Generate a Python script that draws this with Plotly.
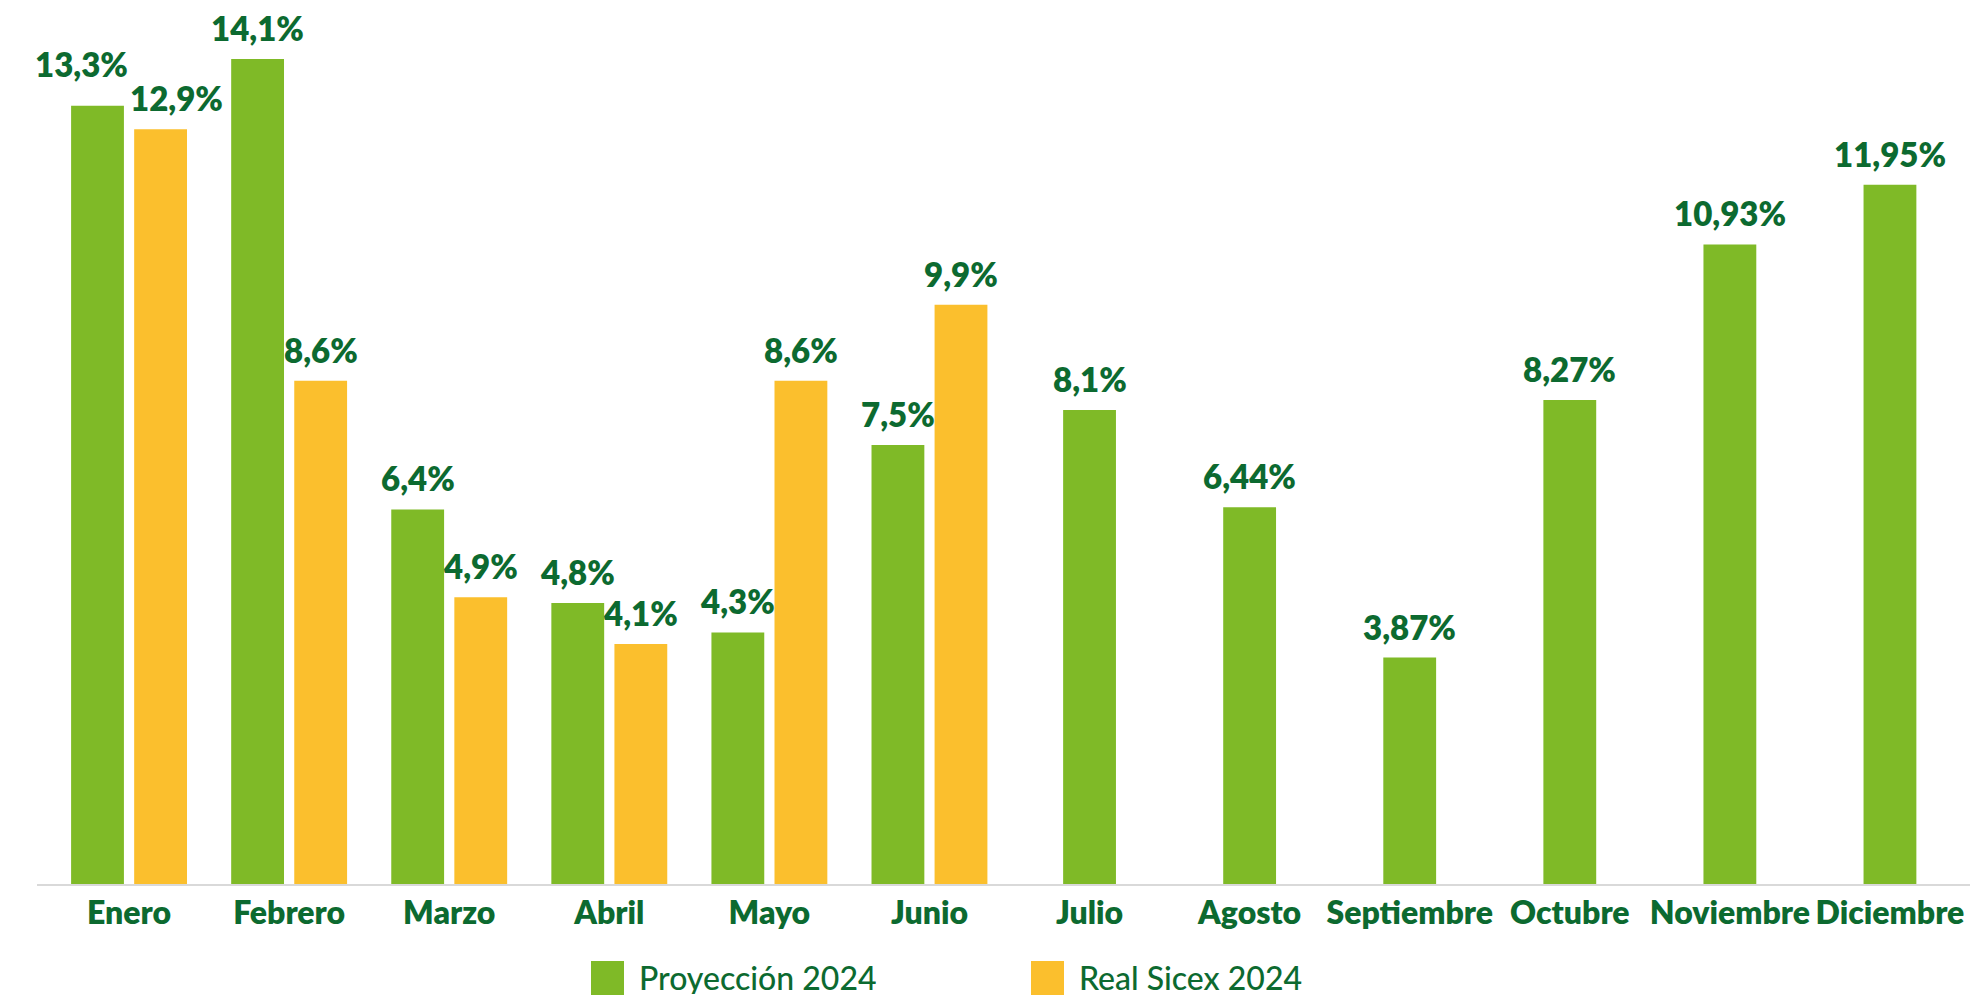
import plotly.graph_objects as go

months = ["Enero", "Febrero", "Marzo", "Abril", "Mayo", "Junio", "Julio",
          "Agosto", "Septiembre", "Octubre", "Noviembre", "Diciembre"]
proyeccion = [13.3, 14.1, 6.4, 4.8, 4.3, 7.5, 8.1, 6.44, 3.87, 8.27, 10.93, 11.95]
proy_labels = ["13,3%", "14,1%", "6,4%", "4,8%", "4,3%", "7,5%", "8,1%",
               "6,44%", "3,87%", "8,27%", "10,93%", "11,95%"]
real = [12.9, 8.6, 4.9, 4.1, 8.6, 9.9, None, None, None, None, None, None]
real_labels = ["12,9%", "8,6%", "4,9%", "4,1%", "8,6%", "9,9%", "", "", "", "", "", ""]

GREEN = "#7FBA27"
YELLOW = "#FBBF2D"
DARK = "#0C6A30"
FONT = "Lato"

# page has an 8px body margin: figure drawn 8px smaller
W, H = 1979 - 8, 995 - 8
ML, MR, MT, MB = 29, 9, 0, 111
X_RANGE = [-0.575, 11.5]
Y_RANGE = [0, 14.97]
plot_w = W - ML - MR
cat_px = plot_w / (X_RANGE[1] - X_RANGE[0])

BW = 0.33
PAIR_OFF = 0.197
green_center = [(-PAIR_OFF if r is not None else 0.0) for r in real]
green_offset = [c - BW / 2 for c in green_center]
yellow_offset = PAIR_OFF - BW / 2

# manual nudges of a few value labels (in px), as placed in the reference
label_nudge = {("p", "Enero"): (-16, 11), ("r", "Enero"): (16, 0)}

fig = go.Figure()
fig.add_trace(go.Bar(
    x=months, y=proyeccion, name="Proyección 2024",
    marker=dict(color=GREEN, line=dict(width=0)),
    width=BW, offset=green_offset, showlegend=False, hoverinfo="skip",
))
fig.add_trace(go.Bar(
    x=months, y=real, name="Real Sicex 2024",
    marker=dict(color=YELLOW, line=dict(width=0)),
    width=BW, offset=yellow_offset, showlegend=False, hoverinfo="skip",
))

label_font = dict(family=FONT, size=33, color=DARK, weight=800)
for m, v, t, c in zip(months, proyeccion, proy_labels, green_center):
    dx, dy = label_nudge.get(("p", m), (0, 0))
    fig.add_annotation(x=m, y=v, text=t, showarrow=False, yanchor="bottom",
                       xshift=c * cat_px + dx, yshift=9 + dy, font=label_font)
for m, v, t in zip(months, real, real_labels):
    if v is None:
        continue
    dx, dy = label_nudge.get(("r", m), (0, 0))
    fig.add_annotation(x=m, y=v, text=t, showarrow=False, yanchor="bottom",
                       xshift=PAIR_OFF * cat_px + dx, yshift=9 + dy, font=label_font)

fig.update_layout(
    width=W, height=H,
    template="none",
    barmode="overlay",
    paper_bgcolor="white", plot_bgcolor="white",
    margin=dict(l=ML, r=MR, t=MT, b=MB),
    font=dict(family=FONT, color=DARK),
    xaxis=dict(
        type="category", categoryorder="array", categoryarray=months,
        showgrid=False, zeroline=False, automargin=False,
        showline=True, linecolor="#D9D9D9", linewidth=2,
        ticks="", tickfont=dict(family=FONT, size=32, color=DARK, weight=800),
        range=X_RANGE,
    ),
    yaxis=dict(range=Y_RANGE, visible=False, showgrid=False, zeroline=False,
               automargin=False),
)

# legend with large squares, positioned in pixels
plot_b = H - MB
plot_h = H - MT - MB
def px_x(x):
    return (x - ML) / plot_w
def px_y(y):
    return (plot_b - y) / plot_h

legend_items = [("Proyección 2024", GREEN, 583), ("Real Sicex 2024", YELLOW, 1023)]
for name, col, px in legend_items:
    fig.add_shape(type="rect", xref="paper", yref="paper",
                  x0=px_x(px), x1=px_x(px + 33), y0=px_y(H), y1=px_y(953),
                  line=dict(width=0), fillcolor=col)
    fig.add_annotation(xref="paper", yref="paper", x=px_x(px + 46), y=px_y(969),
                       xanchor="left", yanchor="middle", showarrow=False,
                       height=34, valign="middle",
                       text=name, font=dict(family=FONT, size=32, color=DARK, weight=500))

fig.write_html("out.html")
